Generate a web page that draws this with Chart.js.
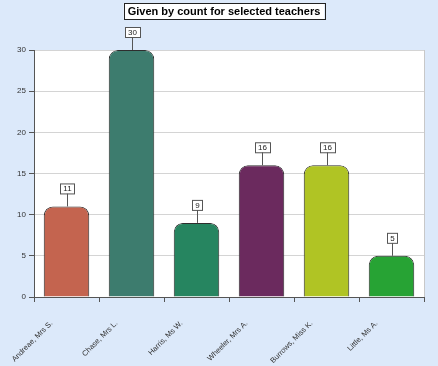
<!DOCTYPE html>
<html>
<head>
<meta charset="utf-8">
<script src="https://cdn.jsdelivr.net/npm/chart.js@4/dist/chart.umd.min.js"></script>
<style>
  html, body { margin: 0; padding: 0; background: #dce9fa; }
  #wrap { width: 438px; height: 366px; }
</style>
</head>
<body>
<div id="wrap"><canvas id="chart" width="438" height="366"></canvas></div>
<script>
const TEACHERS = ["Andreae, Mrs S.", "Chase, Mrs L.", "Harris, Ms W.", "Wheeler, Mrs A.", "Burrows, Miss K.", "Little, Ms A."];
const COUNTS = [11, 30, 9, 16, 16, 5];
const BAR_COLOURS = ["#c4644f", "#3d7c6e", "#268560", "#6b2a5e", "#b0c424", "#27a334"];
const Y_TICKS = [0, 5, 10, 15, 20, 25, 30];
const TITLE = "Given by count for selected teachers";

const plotBackground = {
  id: "plotBackground",
  beforeDraw(chart) {
    const { ctx, chartArea: a } = chart;
    ctx.save();
    ctx.fillStyle = "#ffffff";
    ctx.fillRect(a.left, a.top, a.right - a.left, a.bottom - a.top);
    ctx.strokeStyle = "#c8c8c8";
    ctx.lineWidth = 1;
    ctx.beginPath();
    ctx.moveTo(a.right + 0.5, a.top);
    ctx.lineTo(a.right + 0.5, a.bottom);
    ctx.stroke();
    ctx.restore();
  }
};

const boxedTitle = {
  id: "boxedTitle",
  afterDraw(chart) {
    const { ctx } = chart;
    ctx.save();
    ctx.font = "bold 11px 'Liberation Sans', Arial, sans-serif";
    const w = ctx.measureText(TITLE).width;
    const cx = 224, cy = 11;
    ctx.fillStyle = "#ffffff";
    ctx.fillRect(cx - w / 2 - 4, cy - 8, w + 8, 16);
    ctx.strokeStyle = "#222";
    ctx.lineWidth = 1;
    ctx.strokeRect(Math.round(cx - w / 2 - 4) + 0.5, cy - 7.5, Math.round(w + 8), 16);
    ctx.fillStyle = "#000";
    ctx.textAlign = "center";
    ctx.textBaseline = "middle";
    ctx.fillText(TITLE, cx, cy + 1);
    ctx.restore();
  }
};

const valueLabels = {
  id: "valueLabels",
  afterDatasetsDraw(chart) {
    const { ctx } = chart;
    const meta = chart.getDatasetMeta(0);
    ctx.save();
    ctx.font = "8px 'Liberation Sans', Arial, sans-serif";
    ctx.textAlign = "center";
    ctx.textBaseline = "middle";
    meta.data.forEach((bar, i) => {
      const text = String(COUNTS[i]);
      const x = Math.round(bar.x) + 0.5;
      const top = bar.y;
      const w = ctx.measureText(text).width + 6;
      const boxBottom = top - 13;
      ctx.strokeStyle = "#555";
      ctx.lineWidth = 1;
      ctx.beginPath();
      ctx.moveTo(x, boxBottom);
      ctx.lineTo(x, top);
      ctx.stroke();
      ctx.fillStyle = "#fff";
      ctx.fillRect(Math.round(x - w / 2), boxBottom - 10, Math.round(w), 10);
      ctx.strokeRect(Math.round(x - w / 2) + 0.5, boxBottom - 10 + 0.5, Math.round(w), 10);
      ctx.fillStyle = "#222";
      ctx.fillText(text, x, boxBottom - 4.5);
    });
    ctx.restore();
  }
};

new Chart("chart", {
  type: "bar",
  data: {
    labels: TEACHERS,
    datasets: [{
      data: COUNTS,
      backgroundColor: BAR_COLOURS,
      borderColor: "#2e2e2e",
      borderWidth: 1,
      borderSkipped: "bottom",
      borderRadius: { topLeft: 9, topRight: 9 },
      categoryPercentage: 1,
      barPercentage: 0.7
    }]
  },
  options: {
    responsive: false,
    animation: false,
    events: [],
    layout: { padding: { top: 50, right: 14, left: 0, bottom: 0 } },
    plugins: {
      legend: { display: false },
      title: { display: false },
      tooltip: { enabled: false }
    },
    scales: {
      x: {
        offset: true,
        grid: {
          offset: true,
          drawOnChartArea: false,
          tickLength: 5,
          color: "#555"
        },
        border: { color: "#555" },
        ticks: {
          minRotation: 45,
          maxRotation: 45,
          padding: 17,
          labelOffset: -15,
          color: "#333",
          font: { size: 7.5, family: "'Liberation Sans', Arial, sans-serif" }
        },
        afterFit(scale) { scale.height = 69; }
      },
      y: {
        min: 0,
        max: 30,
        afterBuildTicks(scale) { scale.ticks = Y_TICKS.map(v => ({ value: v })); },
        grid: {
          color: "#d4d4d4",
          tickColor: "#555",
          tickLength: 5
        },
        border: { color: "#555" },
        ticks: {
          color: "#333",
          padding: 3,
          font: { size: 8, family: "'Liberation Sans', Arial, sans-serif" }
        },
        afterFit(scale) { scale.width = 34; }
      }
    }
  },
  plugins: [plotBackground, valueLabels, boxedTitle]
});
</script>
</body>
</html>
